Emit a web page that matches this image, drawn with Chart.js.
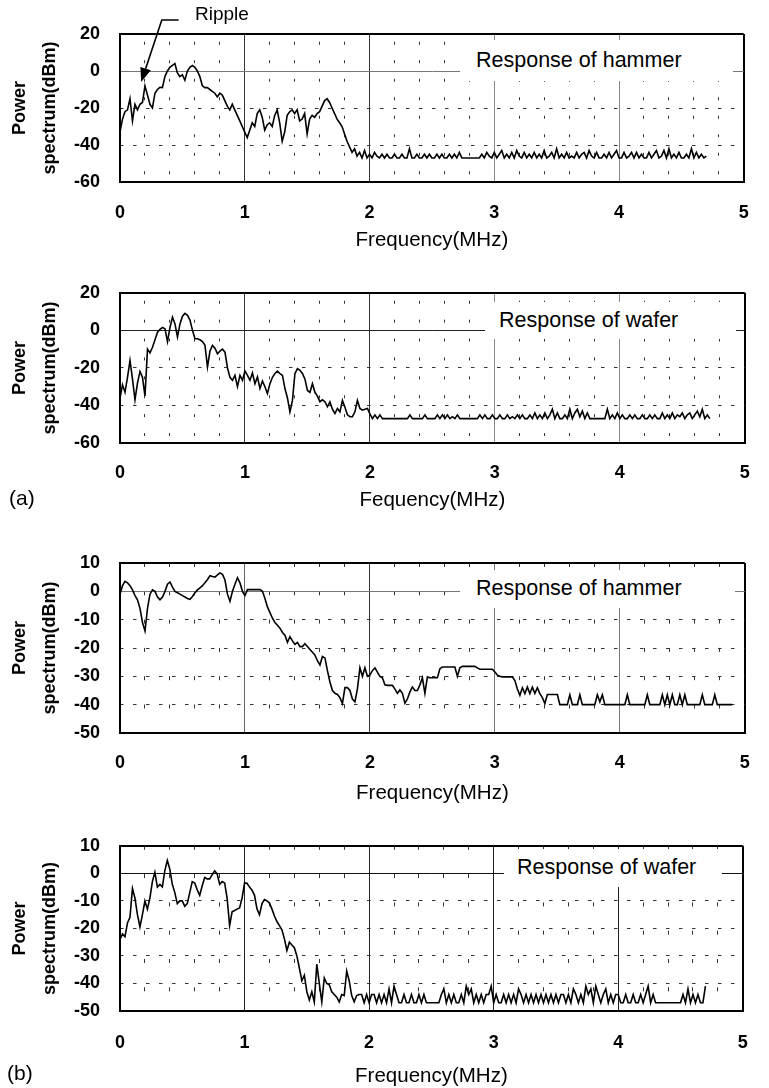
<!DOCTYPE html>
<html>
<head>
<meta charset="utf-8">
<title>Power spectrum – hammer and wafer</title>
<script src="https://cdn.jsdelivr.net/npm/chart.js@4.4.1/dist/chart.umd.min.js"></script>
<style>
  html, body { margin: 0; padding: 0; background: #fff; }
  #page { position: relative; width: 769px; height: 1088px; overflow: hidden;
          font-family: 'Liberation Sans', Arial, sans-serif; color: #000; }
  #page canvas { position: absolute; left: 0; }
  .note { position: absolute; white-space: nowrap; line-height: 1; }
  .resp { position: absolute; background: #fff; display: flex; align-items: center;
          font-size: 21.5px; line-height: 1; white-space: nowrap; z-index: 2; }
</style>
</head>
<body>
<div id="page">
  <canvas id="hammer-a" width="769" height="258" style="top:0px"></canvas>
  <canvas id="wafer-a" width="769" height="256" style="top:262px"></canvas>
  <canvas id="hammer-b" width="769" height="278" style="top:530px"></canvas>
  <canvas id="wafer-b" width="769" height="273" style="top:815px"></canvas>

  <div class="note" style="left:195px; top:4px; font-size:19px;">Ripple</div>
  <div class="resp" style="left:460px; top:40px; width:257px; height:41px; padding-left:16px;">Response of hammer</div>
  <div class="resp" style="left:485px; top:302px; width:237px; height:37px; padding-left:14px;">Response of wafer</div>
  <div class="resp" style="left:460px; top:570px; width:259px; height:38px; padding-left:16px;">Response of hammer</div>
  <div class="resp" style="left:504px; top:849px; width:205px; height:38px; padding-left:13px;">Response of wafer</div>
  <div class="note" style="left:9px; top:487px; font-size:21px;">(a)</div>
  <div class="note" style="left:7px; top:1062px; font-size:21px;">(b)</div>
</div>

<script>
// spectra sampled every 0.02 MHz starting at 0 MHz, values in dBm
const binMHz = 0.02;

// (a) response of hammer, 0 .. 4.70 MHz
const hammerA = [
  -33, -26, -22, -21, -15, -27, -18, -21, -18, -17,
  -8, -13, -18, -20, -12, -10, -8.8, -9, -3, 0,
  2, 3, 4, -1, -3, -2, -5, 0, 2, 3,
  2, 0, -3, -8, -9, -9, -10, -11, -12, -14,
  -12, -13, -16, -19, -21, -18, -21, -24, -27, -30,
  -33, -36, -32, -28, -30, -23, -21, -25, -32, -29,
  -28, -30, -24, -21, -28, -38, -33, -24, -22, -21,
  -23, -21, -27, -26, -23, -34, -26, -24, -25, -23,
  -22, -19, -16, -15, -17, -20, -23, -26, -28, -30,
  -34, -38, -41, -44, -42, -46, -44, -47, -43, -47,
  -45, -47, -44, -46, -47, -45, -47, -45, -47, -47,
  -45, -47, -47, -45, -47, -47, -42, -47, -47, -45,
  -47, -47, -45, -47, -45, -47, -47, -45, -47, -45,
  -47, -47, -45, -47, -45, -47, -44, -47, -47, -47,
  -47, -47, -47, -47, -47, -45, -47, -44, -46, -47,
  -44, -47, -45, -43, -47, -45, -47, -44, -47, -43,
  -46, -47, -44, -47, -45, -47, -44, -47, -45, -47,
  -43, -47, -46, -44, -47, -42, -47, -45, -47, -44,
  -47, -46, -47, -44, -47, -45, -44, -47, -43, -46,
  -47, -44, -47, -47, -45, -47, -44, -47, -45, -43,
  -47, -47, -44, -47, -46, -44, -47, -44, -47, -45,
  -47, -47, -44, -47, -45, -43, -47, -46, -43, -47,
  -42, -47, -45, -47, -44, -47, -47, -45, -47, -42,
  -47, -44, -47, -45, -47, -46
];

// (a) response of wafer, 0 .. 4.72 MHz
const waferA = [
  -36, -29, -33, -25, -16, -26, -37, -28, -22, -25,
  -35, -10, -12, -9, -5, -1, 0.5, 1.5, 0.8, -6,
  1.5, 7, 3.4, -3.5, 3.4, 7.5, 9, 8, 5.5, 0,
  -4.5, -4.5, -5, -6, -8, -19.5, -11, -8, -9.5, -12.5,
  -11, -10, -11.6, -20, -25, -26.6, -24, -30, -24, -26.6,
  -21.7, -24, -26.6, -22.7, -28.4, -24.8, -31, -27, -30, -33.7,
  -28.4, -25, -23, -21.7, -23, -24, -31, -36, -43.4, -37.3,
  -23, -20.4, -21.3, -23, -26, -32, -33, -28.4, -33, -35,
  -38, -37, -38, -40.7, -38.1, -42, -44.3, -41.6, -43.4, -37.3,
  -41, -45, -46, -46, -43.4, -37.3, -41.6, -42.5, -42, -41.6,
  -44.5, -47, -45, -47, -45, -47, -47, -47, -47, -47,
  -47, -47, -47, -47, -47, -47, -45, -47, -47, -47,
  -47, -47, -45, -47, -47, -47, -47, -45, -47, -45,
  -47, -45, -47, -46, -47, -45, -47, -47, -47, -47,
  -47, -47, -47, -47, -45, -47, -45, -47, -47, -45,
  -47, -47, -45, -47, -47, -45, -47, -46, -47, -45,
  -47, -45, -47, -47, -45, -47, -44, -47, -45, -47,
  -44, -47, -45, -42, -47, -44, -47, -47, -45, -47,
  -42, -47, -44, -42, -46, -43, -47, -44, -47, -47,
  -47, -47, -47, -47, -47, -42, -47, -45, -47, -44,
  -47, -45, -47, -47, -45, -47, -45, -47, -47, -45,
  -47, -47, -45, -47, -45, -47, -47, -44, -47, -45,
  -47, -44, -47, -45, -46, -44, -47, -45, -44, -47,
  -45, -43, -46, -42, -47, -45, -47
];

// (b) response of hammer, 0 .. 4.90 MHz
const hammerB = [
  -1, 2, 3.5, 3, 2, 0.5, -1.5, -3, -6, -11,
  -14, -6, -1, 0.5, 0, -2, -3, -2, 0, 2.5,
  3.3, 1.5, 0, -0.5, -1, -1.5, -2, -2.5, -2.8, -1.8,
  -0.5, 0.5, 1.2, 2, 3, 4.2, 5.5, 5.2, 5, 5.8,
  6.5, 6, 4, -1, -3.5, 0, 2.5, 4.8, 3, 0,
  -1.5, 0.6, 0.6, 0.6, 0.6, 0.6, 0.6, 0, -2.5, -5.5,
  -7.5, -9.5, -11, -12, -13, -14.5, -15.5, -18, -16, -17.5,
  -18.7, -18, -19.5, -19.5, -18.5, -19.5, -20.5, -21.5, -22.5, -24.5,
  -26, -23, -23.5, -28, -32, -35, -36, -36.4, -37.5, -39.6,
  -34, -34, -35, -38, -39, -34.4, -27, -30, -27, -30,
  -29.5, -28, -27, -28.5, -30, -30.5, -33, -33.2, -33.2, -33.2,
  -34.5, -36, -34.8, -36, -39.5, -38, -35.5, -33.8, -35, -35,
  -33, -30.5, -36, -30.2, -30.5, -30.5, -30.5, -30.5, -27.3, -26.7,
  -26.7, -26.7, -26.7, -26.7, -26.7, -30, -27, -26.5, -26.5, -26.5,
  -26.5, -26.5, -26.5, -27, -27.5, -27.5, -27.5, -27.5, -27.5, -27.5,
  -28.5, -29.6, -30, -30.2, -30.2, -30.2, -30.2, -30.2, -31.5, -34.5,
  -36.7, -34, -36.1, -33.8, -36.1, -33.8, -36, -34, -36.1, -37.5,
  -39.6, -36.4, -36.4, -36.4, -36.4, -36.4, -40, -40, -40, -40,
  -36.5, -40, -40, -40, -36.5, -40, -40, -40, -40, -40,
  -40, -36.5, -39, -36.5, -40, -40, -40, -40, -40, -40,
  -40, -40, -40, -36.5, -40, -40, -40, -40, -40, -40,
  -40, -36.5, -40, -40, -40, -40, -40, -36.5, -40, -36.5,
  -40, -36.5, -40, -40, -36.5, -40, -36.5, -40, -40, -40,
  -40, -40, -40, -36.5, -40, -40, -40, -40, -36.5, -40,
  -40, -40, -40, -40, -40, -40
];

// (b) response of wafer, 0 .. 4.70 MHz
const waferB = [
  -24, -22, -23, -18, -16, -5.5, -9, -15, -19.5, -15,
  -10, -13, -9, -3, 0.4, -5, -4, -4.9, 1, 4.7,
  1.5, -4, -7, -11, -10, -10, -12, -11, -7, -3,
  -3.5, -6, -8, -4.5, -1.5, -2, -2, -0.5, 0.9, -0.2,
  -4, -3, -3.5, -9, -19, -14, -13.5, -13, -12.6, -9,
  -3.5, -3.6, -5, -6.1, -8, -13, -15, -11, -9.5, -10,
  -10.8, -13, -15.5, -17.5, -19, -20.5, -23.8, -28, -25, -26,
  -27, -30, -34.4, -39, -37, -43, -46, -43, -46.7, -33,
  -40, -46.7, -38, -40, -40.5, -43, -44, -45, -46.7, -44,
  -44.4, -35.5, -39, -44.4, -46.7, -44.4, -44, -44, -47, -44,
  -47, -44, -44, -47, -44, -47, -44, -47, -42, -47,
  -41, -44, -47, -47, -44, -47, -47, -44, -47, -47,
  -44, -47, -44, -47, -47, -47, -47, -47, -47, -44,
  -42, -47, -44, -47, -44, -47, -47, -44, -47, -41,
  -44, -42, -47, -44, -47, -44, -47, -44, -44, -41,
  -47, -44, -47, -47, -44, -47, -44, -47, -44, -47,
  -42, -44, -47, -44, -47, -44, -47, -44, -47, -44,
  -47, -44, -47, -44, -47, -44, -47, -44, -44, -47,
  -44, -47, -42, -44, -47, -44, -47, -41, -44, -42,
  -47, -41, -44, -47, -44, -42, -47, -44, -47, -44,
  -44, -47, -47, -44, -47, -47, -44, -47, -47, -44,
  -47, -44, -41, -47, -44, -47, -47, -47, -47, -47,
  -47, -47, -47, -47, -47, -47, -44, -47, -42, -47,
  -44, -47, -44, -47, -47, -41
];

// dotted frequency grid (every 0.2 MHz between the whole-MHz lines)
const minorFreq = [0.2, 0.4, 0.6, 0.8, 1.2, 1.4, 1.6, 1.8, 2.2, 2.4, 2.6, 2.8,
                   3.2, 3.4, 3.6, 3.8, 4.2, 4.4, 4.6, 4.8];
// dashed power grid rows
const dashRowsA = [-20, -40];
const dashRowsB = [-10, -20, -30, -40];
const yTitle = ['Power', 'spectrum(dBm)'];

// arrow of the "Ripple" note, in (MHz, dBm) of the first panel: end of leader, bend, tip
const ripplePath = [[0.47, 27.6], [0.335, 27.6], [0.17, -5.9]];

Chart.defaults.font.family = "'Liberation Sans', Arial, sans-serif";
Chart.defaults.color = '#000';

const rippleArrow = {
  id: 'rippleArrow',
  afterDraw(chart) {
    const {ctx, scales: {x, y}} = chart;
    const pts = ripplePath.map(([f, db]) => [x.getPixelForValue(f), y.getPixelForValue(db)]);
    const [tx, ty] = pts[2];
    const [bx, by] = pts[1];
    const ang = Math.atan2(ty - by, tx - bx);
    const len = 14, half = 5.5;
    const baseX = tx - len * Math.cos(ang), baseY = ty - len * Math.sin(ang);
    ctx.save();
    ctx.strokeStyle = '#000';
    ctx.lineWidth = 1.6;
    ctx.beginPath();
    ctx.moveTo(pts[0][0], pts[0][1]);
    ctx.lineTo(bx, by);
    ctx.lineTo(baseX, baseY);
    ctx.stroke();
    ctx.fillStyle = '#000';
    ctx.beginPath();
    ctx.moveTo(tx, ty);
    ctx.lineTo(baseX + half * Math.sin(ang), baseY - half * Math.cos(ang));
    ctx.lineTo(baseX - half * Math.sin(ang), baseY + half * Math.cos(ang));
    ctx.closePath();
    ctx.fill();
    ctx.restore();
  }
};

const panels = [
  { id: 'hammer-a', values: hammerA, yMin: -60, yMax: 20, yStep: 20, dashRows: dashRowsA,
    xTitle: 'Frequency(MHz)', top: 0, height: 258, plotTop: 34, plotBottom: 182, plotRight: 757,
    tickMid: 213, titleMid: 240, vDash: [3, 15.5], vDashOffset: 10.75,
    majorColors: ['#000', '#333', '#333', '#888', '#888', '#000'], zeroColor: '#777' },
  { id: 'wafer-a', values: waferA, yMin: -60, yMax: 20, yStep: 20, dashRows: dashRowsA,
    xTitle: 'Fequency(MHz)', top: 262, height: 256, plotTop: 292, plotBottom: 443, plotRight: 757,
    tickMid: 473, titleMid: 500, vDash: [3, 15.9], vDashOffset: 10.95,
    majorColors: ['#000', '#333', '#333', '#888', '#888', '#000'], zeroColor: '#222' },
  { id: 'hammer-b', values: hammerB, yMin: -50, yMax: 10, yStep: 10, dashRows: dashRowsB,
    xTitle: 'Frequency(MHz)', top: 530, height: 278, plotTop: 563, plotBottom: 733, plotRight: 758,
    tickMid: 763, titleMid: 793, vDash: [4, 24.3], vDashOffset: 0,
    majorColors: ['#000', '#666', '#333', '#777', '#777', '#000'], zeroColor: '#777' },
  { id: 'wafer-b', values: waferB, yMin: -50, yMax: 10, yStep: 10, dashRows: dashRowsB,
    xTitle: 'Frequency(MHz)', top: 815, height: 273, plotTop: 841, plotBottom: 1011, plotRight: 763,
    tickMid: 1043, titleMid: 1076, vDash: [4, 24.3], vDashOffset: 0,
    majorColors: ['#000', '#222', '#222', '#222', '#222', '#000'], zeroColor: '#111' }
];

const tickFont = {size: 18, weight: 'bold'};
const tickLine = tickFont.size * 1.2;
const titleFont = {size: 20.5};
const titleLine = titleFont.size * 1.2;

let buildPanel = (p) => {
  const ctx = document.getElementById(p.id).getContext('2d');
  const bottom = p.top + p.height;
  const isEdgeY = v => v === p.yMin || v === p.yMax;
  return new Chart(ctx, {
    type: 'line',
    data: {
      datasets: [{
        data: p.values.map((v, i) => ({x: i * binMHz, y: v})),
        borderColor: '#000',
        borderWidth: 1.6,
        pointRadius: 0,
        tension: 0,
        xAxisID: 'x',
        yAxisID: 'y'
      }]
    },
    options: {
      responsive: false,
      animation: false,
      devicePixelRatio: 1,
      layout: { padding: { top: p.plotTop - p.top, right: 769 - p.plotRight, bottom: 0, left: 0 } },
      plugins: { legend: { display: false }, tooltip: { enabled: false } },
      scales: {
        x: {
          type: 'linear', position: 'bottom', min: 0, max: 5,
          ticks: { stepSize: 1, padding: p.tickMid - p.plotBottom - tickLine / 2, font: tickFont, maxRotation: 0 },
          grid: {
            drawTicks: false,
            color: c => p.majorColors[Math.round(c.tick.value)],
            lineWidth: c => (c.tick.value === 0 || c.tick.value === 5) ? 2 : 1
          },
          border: { display: true, color: '#000', width: 2 },
          title: { display: true, text: p.xTitle, font: titleFont,
                   padding: { top: 0, bottom: bottom - p.titleMid - titleLine / 2 } },
          afterFit: s => { s.height = bottom - p.plotBottom; }
        },
        xMinor: {
          type: 'linear', axis: 'x', position: 'bottom', min: 0, max: 5,
          afterBuildTicks: s => { s.ticks = minorFreq.map(v => ({value: v})); },
          ticks: { display: false },
          grid: { drawTicks: false, color: '#333', lineWidth: 1 },
          border: { display: false, dash: p.vDash, dashOffset: p.vDashOffset }
        },
        y: {
          type: 'linear', position: 'left', min: p.yMin, max: p.yMax,
          ticks: { stepSize: p.yStep, padding: 20, font: tickFont },
          grid: {
            drawTicks: false,
            color: c => isEdgeY(c.tick.value) ? '#000' : (c.tick.value === 0 ? p.zeroColor : 'rgba(0,0,0,0)'),
            lineWidth: c => isEdgeY(c.tick.value) ? 2 : 1
          },
          border: { display: true, color: '#000', width: 2 },
          title: { display: true, text: yTitle, font: {size: 18, weight: 'bold', lineHeight: 1.65},
                   padding: { top: 5, bottom: 0 } },
          afterFit: s => { s.width = 120; }
        },
        yMinor: {
          type: 'linear', axis: 'y', position: 'left', min: p.yMin, max: p.yMax,
          afterBuildTicks: s => { s.ticks = p.dashRows.map(v => ({value: v})); },
          ticks: { display: false },
          grid: { drawTicks: false, color: '#333', lineWidth: 1 },
          border: { display: false, dash: [3.5, 9.5] }
        }
      }
    },
    plugins: p.id === 'hammer-a' ? [rippleArrow] : []
  });
};

panels.forEach(buildPanel);
</script>
</body>
</html>
